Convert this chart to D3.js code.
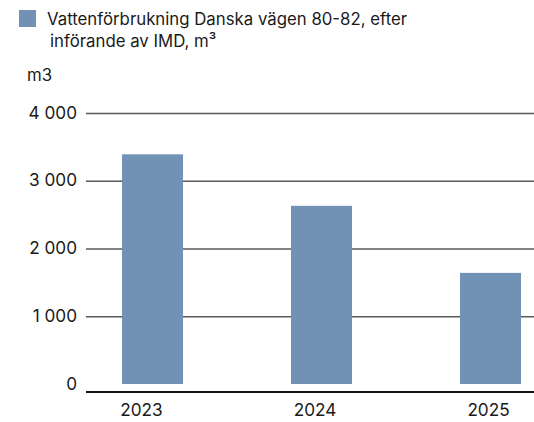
<!DOCTYPE html>
<html>
<head>
<meta charset="utf-8">
<script src="https://cdn.jsdelivr.net/npm/d3@7"></script>
<style>
  body { margin: 0; background: #fff; }
  svg { display: block; font-family: Inter, sans-serif; }
  .legend-text, .unit { font-size: 16.8px; fill: #1a1a1a; }
</style>
</head>
<body>
<div id="chart"></div>
<script>
// data
const years = ['2023', '2024', '2025'];
const usage = [3390, 2630, 1640];
const yTicks = [0, 1000, 2000, 3000, 4000];
const legendLines = ['Vattenförbrukning Danska vägen 80-82, efter', 'införande av IMD, m³'];
const unitLabel = 'm3';

// dimensions
const WIDTH = 534;
const HEIGHT = 422;
const PLOT_LEFT = 86;
const PLOT_RIGHT = 534;
const ZERO_Y = 384;
const TOP_Y = 113;
const AXIS_Y = 392;
const FONT_SIZE = 17.2;

const BAR_COLOR = '#7292b5';

const $svg = d3.select('#chart').append('svg')
  .attr('width', WIDTH)
  .attr('height', HEIGHT);

// scales
const scaleX = d3.scaleBand()
  .domain(years)
  .range([PLOT_LEFT, PLOT_RIGHT])
  .paddingInner(0.639)
  .paddingOuter(0.145)
  .align(0.735);

const scaleLabel = d3.scalePoint()
  .domain(years)
  .range([141, 488]);

const scaleY = d3.scaleLinear()
  .domain([0, 4000])
  .range([ZERO_Y, TOP_Y]);

// legend
const $legend = $svg.append('g').attr('class', 'legend');
$legend.append('rect')
  .attr('x', 19).attr('y', 10)
  .attr('width', 17).attr('height', 17)
  .attr('fill', BAR_COLOR);
$legend.selectAll('.legend-text')
  .data(legendLines)
  .join('text')
  .attr('class', 'legend-text')
  .attr('x', (d, i) => (i === 0 ? 47 : 50))
  .attr('y', (d, i) => 25 + i * 22)
  .text((d) => d);

$svg.append('text')
  .attr('class', 'unit')
  .attr('x', 27).attr('y', 81)
  .text(unitLabel);

// y axis with gridlines
$svg.append('g')
  .attr('class', 'axis-y')
  .attr('transform', `translate(${PLOT_LEFT},0)`)
  .call(d3.axisLeft(scaleY)
    .tickValues(yTicks)
    .tickSize(-(PLOT_RIGHT - PLOT_LEFT))
    .tickPadding(9)
    .tickFormat((d) => d3.format(',')(d).replace(',', ' ')))
  .call((g) => g.select('.domain').remove())
  .call((g) => g.selectAll('.tick line')
    .attr('stroke', '#5a5a5a')
    .attr('stroke-width', 1.3)
    .attr('opacity', (d) => (d === 0 ? 0 : 1)))
  .call((g) => g.selectAll('.tick text')
    .attr('font-size', FONT_SIZE)
    .attr('fill', '#1a1a1a')
    .attr('font-family', 'Inter, sans-serif')
    .attr('dy', '0.3em'));

// bars
$svg.append('g')
  .selectAll('rect')
  .data(years)
  .join('rect')
  .attr('x', (d) => scaleX(d))
  .attr('width', scaleX.bandwidth())
  .attr('y', (d, i) => scaleY(usage[i]))
  .attr('height', (d, i) => ZERO_Y - scaleY(usage[i]))
  .attr('fill', BAR_COLOR);

// x axis
$svg.append('g')
  .attr('class', 'axis-x')
  .attr('transform', `translate(0,${AXIS_Y})`)
  .call(d3.axisBottom(scaleLabel).tickSize(0).tickPadding(12))
  .call((g) => g.select('.domain')
    .attr('d', `M${PLOT_LEFT},0H${PLOT_RIGHT}`)
    .attr('stroke', '#111')
    .attr('stroke-width', 2.2))
  .call((g) => g.selectAll('.tick text')
    .attr('font-size', FONT_SIZE)
    .attr('fill', '#1a1a1a')
    .attr('font-family', 'Inter, sans-serif'));
</script>
</body>
</html>
